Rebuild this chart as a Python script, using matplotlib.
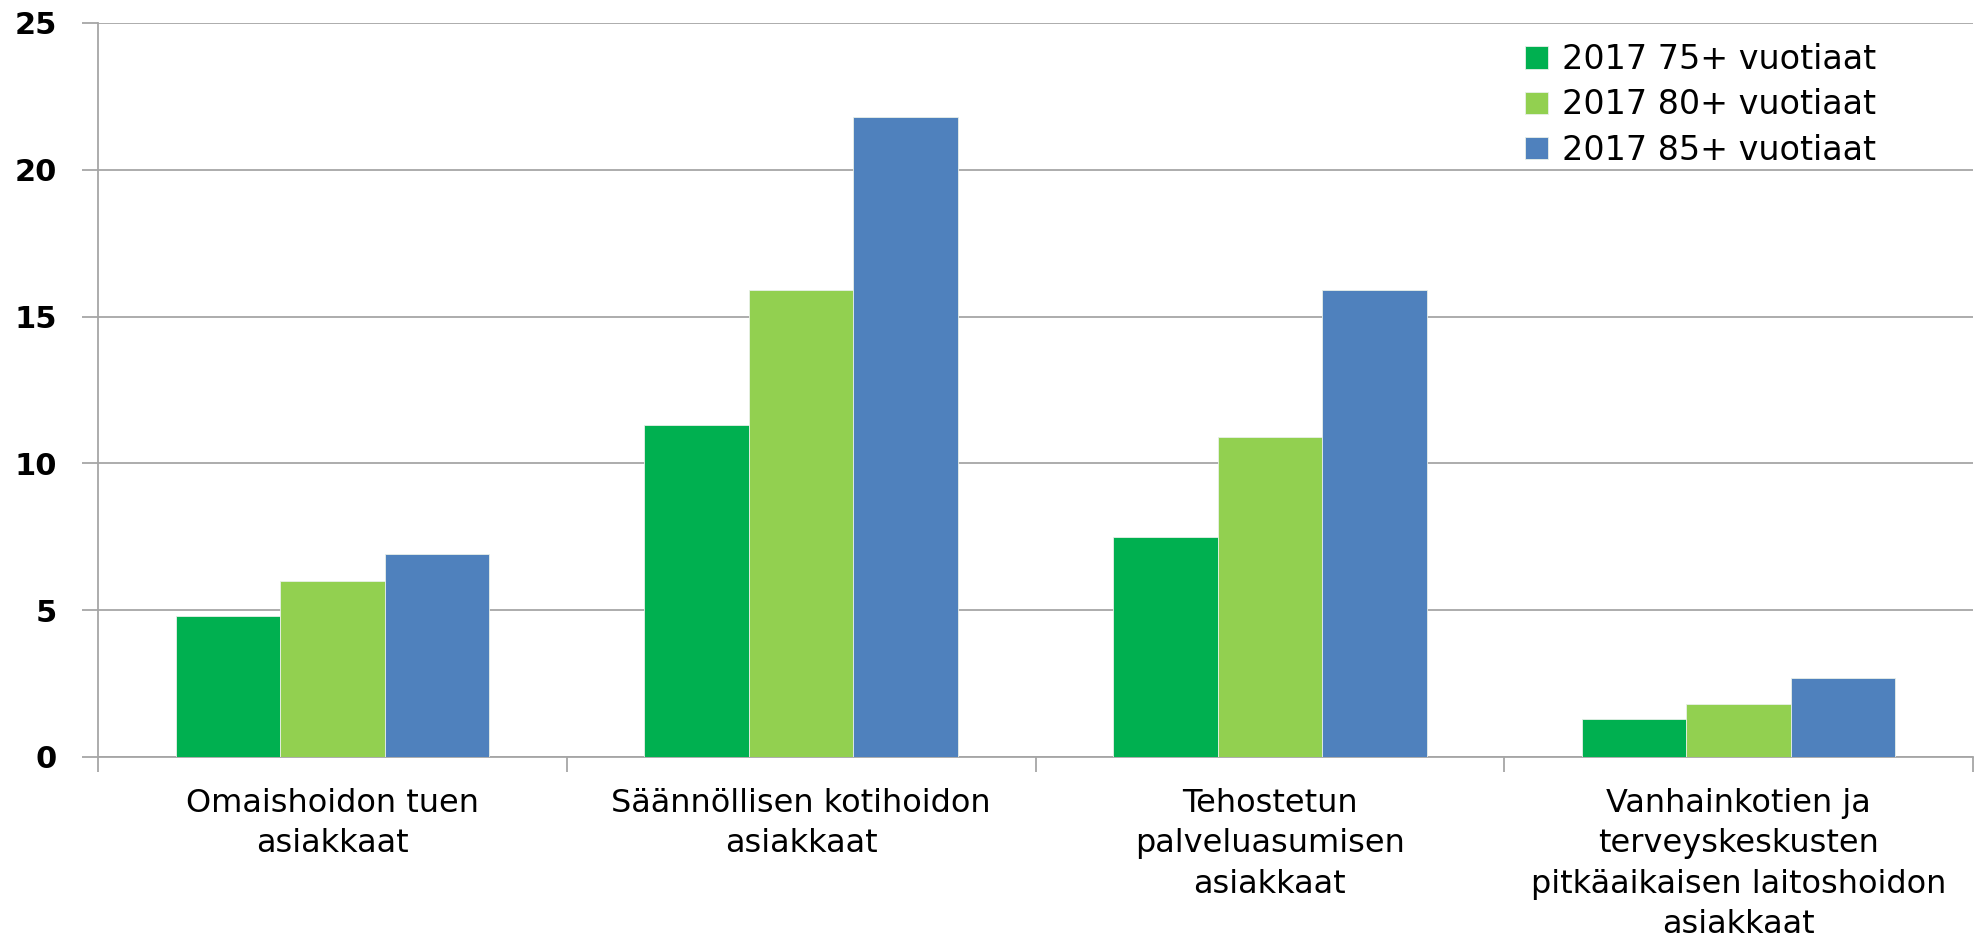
import numpy as np
import matplotlib.pyplot as plt

categories = ["Omaishoidon tuen\nasiakkaat",
              "Säännöllisen kotihoidon\nasiakkaat",
              "Tehostetun\npalveluasumisen\nasiakkaat",
              "Vanhainkotien ja\nterveyskeskusten\npitkäaikaisen laitoshoidon\nasiakkaat"]
series_names = ["2017 75+ vuotiaat", "2017 80+ vuotiaat", "2017 85+ vuotiaat"]
v75 = [4.8, 11.3, 7.5, 1.3]
v80 = [6.0, 15.9, 10.9, 1.8]
v85 = [6.9, 21.8, 15.9, 2.7]
colors = ["#00B050", "#92D050", "#4F81BD"]

fig = plt.figure(figsize=(19.77, 9.46), dpi=100)
ax = fig.add_axes([0.0496, 0.1998, 0.9484, 0.7759])

x = np.arange(len(categories))
w = 0.223
for i, (vals, name) in enumerate(zip([v75, v80, v85], series_names)):
    ax.bar(x + (i - 1) * w, vals, width=w, color=colors[i], label=name,
           edgecolor="#E8F0E8", linewidth=0.6, zorder=3)

ax.set_xlim(-0.5, len(categories) - 0.5)
ax.set_ylim(0, 25)
ax.set_yticks(np.arange(0, 26, 5))
ax.yaxis.grid(True, color="#A6A6A6", linewidth=1.3, zorder=0)
for s in ["top", "right"]:
    ax.spines[s].set_visible(False)
for s in ["left", "bottom"]:
    ax.spines[s].set_color("#A6A6A6")
    ax.spines[s].set_linewidth(1.3)

# boundary ticks without labels, category labels on minor ticks
ax.set_xticks(np.arange(-0.5, len(categories), 1.0))
ax.set_xticklabels([])
ax.set_xticks(x, minor=True)
ax.set_xticklabels(categories, minor=True, fontsize=23, linespacing=1.4)
ax.tick_params(axis="x", which="major", length=11, color="#A6A6A6", width=1.3)
ax.tick_params(axis="x", which="minor", length=0, pad=22)
ax.tick_params(axis="y", length=11.5, color="#A6A6A6", width=1.3, pad=18)
for lab in ax.get_yticklabels():
    lab.set_fontweight("bold")
    lab.set_fontsize(22)

ax.legend(loc="upper left", bbox_to_anchor=(0.763, 0.972),
          bbox_transform=fig.transFigure, frameon=False, fontsize=24,
          borderpad=0, handlelength=0.7, handleheight=0.65,
          handletextpad=0.4, labelspacing=0.37)

fig.savefig("out.png", dpi=100)
